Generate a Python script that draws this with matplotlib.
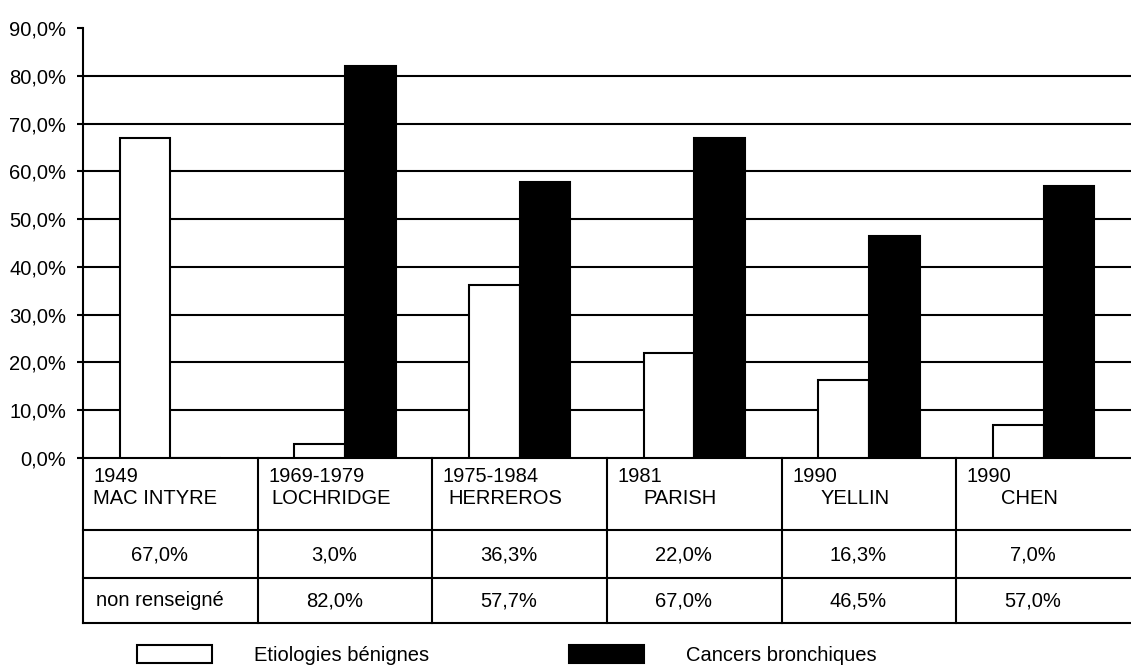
import numpy as np
import matplotlib
matplotlib.use("Agg")
import matplotlib.pyplot as plt

plt.rcParams['font.family'] = ['Liberation Sans', 'DejaVu Sans']

# ---- data ----
years = ["1949", "1969-1979", "1975-1984", "1981", "1990", "1990"]
authors = ["MAC INTYRE", "LOCHRIDGE", "HERREROS", "PARISH", "YELLIN", "CHEN"]
benign = [67.0, 3.0, 36.3, 22.0, 16.3, 7.0]
cancer = [np.nan, 82.0, 57.7, 67.0, 46.5, 57.0]
series_labels = ["Etiologies bénignes", "Cancers bronchiques"]
yticks = [0, 10, 20, 30, 40, 50, 60, 70, 80, 90]

def fmt(v):
    if np.isnan(v):
        return "non renseigné"
    return f"{v:.1f}".replace(".", ",") + "%"

W, H = 1131, 669
fig = plt.figure(figsize=(W / 100, H / 100), dpi=100)
fs = 14.5
lw = 1.5

# main axes
ax_l, ax_r = 83, 1131
ax_t, ax_b = 28, 458
ax = fig.add_axes([ax_l / W, 1 - ax_b / H, (ax_r - ax_l) / W, (ax_b - ax_t) / H])
n = len(authors)
x = np.arange(n)
bw = 0.29
b1 = ax.bar(x - bw / 2, benign, bw, color="white", edgecolor="black", linewidth=lw, zorder=3,
            label=series_labels[0])
b2 = ax.bar(x + bw / 2, np.nan_to_num(cancer), bw, color="black", edgecolor="black", linewidth=lw,
            zorder=3, label=series_labels[1])
ax.set_xlim(-0.5, n - 0.5)
ax.set_ylim(0, 90)
ax.set_yticks(yticks)
ax.set_yticklabels([f"{t:.1f}".replace(".", ",") + "%" for t in yticks], fontsize=fs)
for t in yticks[1:-1]:
    ax.axhline(t, color="black", linewidth=lw, zorder=1)
ax.set_xticks([])
for s in ["top", "right"]:
    ax.spines[s].set_visible(False)
ax.spines["left"].set_linewidth(lw)
ax.spines["bottom"].set_linewidth(lw)
ax.tick_params(axis="y", length=4, width=lw, pad=8)

# table axes
tb_b = 623
tax = fig.add_axes([ax_l / W, 1 - tb_b / H, (ax_r - ax_l) / W, (tb_b - ax_b) / H])
tax.set_xlim(-0.5, n - 0.5)
tax.set_ylim(0, tb_b - ax_b)  # pixel units, 0 = bottom
tax.axis("off")
row_lines = [tb_b - 530, tb_b - 578, 0]
for r in row_lines:
    tax.plot([-0.5, n - 0.5], [r, r], color="black", linewidth=lw, clip_on=False)
for i in range(n):
    tax.plot([i - 0.5, i - 0.5], [0, tb_b - ax_b], color="black", linewidth=lw, clip_on=False)

for i in range(n):
    tax.text(i - 0.5 + 0.06, tb_b - 476, years[i], ha="left", va="center", fontsize=fs)
    tax.text(i - 0.08 if i > 0 else i - 0.5 + 0.06, tb_b - 499, authors[i],
             ha="center" if i > 0 else "left", va="center", fontsize=fs)
    tax.text(i - 0.06, tb_b - 555, fmt(benign[i]), ha="center", va="center", fontsize=fs)
    tax.text(i - 0.06, tb_b - 601, fmt(cancer[i]), ha="center", va="center", fontsize=fs)

# legend
em = fs * 100 / 72
fig.legend(handles=[b1, b2], labels=series_labels, loc="lower left",
           bbox_to_anchor=(137 / W, 1 - 665 / H), ncol=2, frameon=False,
           fontsize=fs, handlelength=75 / em, handleheight=20 / em,
           handletextpad=42 / em, columnspacing=140 / em,
           borderpad=0, borderaxespad=0)

fig.savefig("out.png", dpi=100)
